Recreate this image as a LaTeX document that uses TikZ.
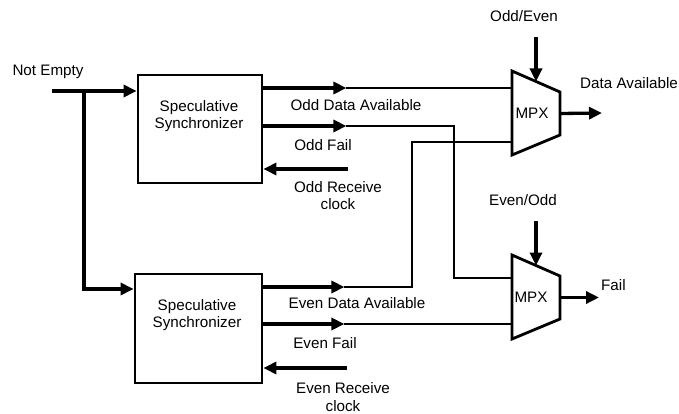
\documentclass[tikz,border=0pt]{standalone}
\usepackage{fontspec}
\setmainfont{Liberation Sans}
\usetikzlibrary{arrows.meta,calc}

\tikzset{
  lbl/.style={inner sep=0pt, align=center, font=\fontsize{15.2}{17.5}\selectfont},
  syncbox/.style={draw, line width=2.8pt, inner sep=0pt, line join=miter},
  heavy/.style={line width=3.3pt},
  light/.style={line width=2.4pt},
  tip/.style={-{Triangle[length=13pt,width=12pt]}},
  muxedge/.style={draw, line width=2.8pt, line join=miter}
}

\begin{document}
\begin{tikzpicture}[x=1pt, y=-1pt]
  \useasboundingbox (0,0) rectangle (679,414);

  % synchronizer blocks
  \node[syncbox, minimum width=124pt, minimum height=108pt] (box1) at (200,129) {};
  \node[lbl] (box1txt) at (199,116) {Speculative\\Synchronizer};
  \node[syncbox, minimum width=127pt, minimum height=109pt] (box2) at (198.5,328.5) {};
  \node[lbl] (box2txt) at (197,315) {Speculative\\Synchronizer};

  % multiplexers
  \path[muxedge] (512,71) coordinate (m1tl) -- (560,92) coordinate (m1tr)
     -- (560,135) coordinate (m1br) -- (512,155) coordinate (m1bl) -- cycle;
  \node[lbl] (mux1) at (532,113) {MPX};
  \path[muxedge] (512,255) coordinate (m2tl) -- (560,276) coordinate (m2tr)
     -- (560,319) coordinate (m2br) -- (512,339) coordinate (m2bl) -- cycle;
  \node[lbl] (mux2) at (531,297) {MPX};

  % ports and bends
  \coordinate (ne) at (52,91);
  \coordinate (split) at (84,91);
  \coordinate (dn) at (84,289);
  \coordinate (m1a) at (512,88);
  \coordinate (m1b) at (512,142);
  \coordinate (m2a) at (512,278);
  \coordinate (m2b) at (512,324);
  \coordinate (of) at (454,126);
  \coordinate (ed) at (412,287);
  \coordinate (orc) at (348,169);
  \coordinate (erc) at (347,368);
  \coordinate (sel1) at (536,37);
  \coordinate (sel2) at (536,221);
  \coordinate (m1o) at ($(m1tr)!0.5!(m1br)$);
  \coordinate (m2o) at ($(m2tr)!0.5!(m2br)$);
  \coordinate (out1) at (602,113);
  \coordinate (out2) at (599,297.5);

  % Not Empty fan-out
  \draw[heavy, tip] (ne) -- (box1.west |- ne);
  \draw[heavy, tip] (split) -- (dn) -- (box2.west |- dn);

  % odd side
  \draw[heavy, tip] (box1.east |- m1a) -- ++(83,0) coordinate (oda);
  \draw[light] (oda) -- (m1a);
  \draw[heavy, tip] (box1.east |- of) -- ++(83,0) coordinate (ofa);
  \draw[light] (ofa) -- (of) |- (m2a);
  \draw[heavy, tip] (orc) -- (box1.east |- orc);

  % even side
  \draw[heavy, tip] (box2.east |- ed) -- ++(81,0) coordinate (eda);
  \draw[light] (eda) -- (ed) |- (m1b);
  \draw[heavy, tip] (box2.east |- m2b) -- ++(81,0) coordinate (efa);
  \draw[light] (efa) -- (m2b);
  \draw[heavy, tip] (erc) -- (box2.east |- erc);

  % selects and outputs
  \draw[heavy, tip] (sel1) -- ($(m1tl)!0.5!(m1tr)$);
  \draw[heavy, tip] (sel2) -- ($(m2tl)!0.5!(m2tr)$);
  \draw[heavy, tip] (m1o) -- (out1);
  \draw[heavy, tip] (m2o) -- (out2);

  % labels
  \node[lbl] (lne) at (48,72) {Not Empty};
  \node[lbl] (lsel1) at (524,16) {Odd/Even};
  \node[lbl, anchor=west] (lout1) at (580,83) {Data Available};
  \node[lbl] (lsel2) at (523,200) {Even/Odd};
  \node[lbl, anchor=west] (lout2) at (601,285) {Fail};
  \node[lbl] (loda) at (356,105) {Odd Data Available};
  \node[lbl] (lof) at (323,145) {Odd Fail};
  \node[lbl] (lorc) at (338,195.5) {Odd Receive\\clock};
  \node[lbl] (leda) at (357,303) {Even Data Available};
  \node[lbl] (lef) at (325,343) {Even Fail};
  \node[lbl] (lerc) at (343,397) {Even Receive\\clock};
\end{tikzpicture}
\end{document}
